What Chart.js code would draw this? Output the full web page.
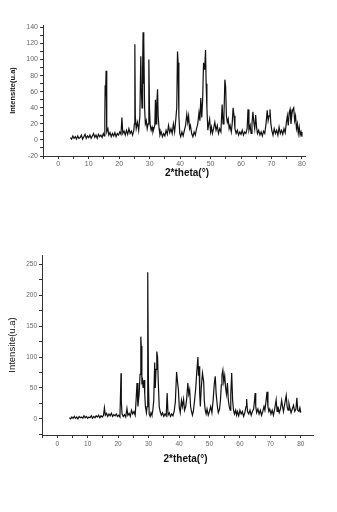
<!DOCTYPE html>
<html><head><meta charset="utf-8">
<script src="https://cdn.jsdelivr.net/npm/chart.js@4.4.0/dist/chart.umd.min.js"></script>
<style>
html,body{margin:0;padding:0;background:#fff;}
body{width:337px;height:512px;position:relative;overflow:hidden;}
.w{position:absolute;left:0;width:337px;}
</style></head><body>
<div class="w" style="top:0;height:190px"><canvas id="c1"></canvas></div>
<div class="w" style="top:240px;height:230px"><canvas id="c2"></canvas></div>
<script>
// ---- Top pattern ----
const twoTheta1 = [4.0,4.4,4.8,5.2,5.6,6.0,6.4,6.8,7.2,7.6,8.0,8.4,8.8,9.2,9.6,10.0,10.4,10.8,11.2,11.6,12.0,12.4,12.8,13.2,13.6,14.0,14.4,14.8,15.1,15.3,15.4,15.55,15.7,15.85,16.0,16.3,16.6,17.0,17.4,17.8,18.2,18.6,19.0,19.4,19.8,20.2,20.6,20.9,21.2,21.6,22.0,22.4,22.8,23.2,23.6,24.0,24.4,24.8,25.0,25.15,25.3,25.6,26.0,26.4,26.8,27.1,27.3,27.5,27.7,27.85,28.0,28.15,28.35,28.6,28.9,29.2,29.5,29.75,29.95,30.2,30.5,30.8,31.1,31.4,31.7,31.9,32.1,32.35,32.6,32.8,33.1,33.4,33.8,34.2,34.6,35.0,35.4,35.8,36.2,36.6,37.0,37.4,37.8,38.2,38.6,38.9,39.15,39.35,39.6,39.9,40.2,40.6,41.0,41.4,41.8,42.2,42.5,42.8,43.1,43.4,43.8,44.2,44.6,45.0,45.4,45.8,46.2,46.5,46.8,47.1,47.4,47.7,47.9,48.1,48.35,48.55,48.8,49.1,49.4,49.7,50.0,50.3,50.6,51.0,51.4,51.8,52.2,52.6,53.0,53.4,53.8,54.1,54.4,54.7,54.95,55.2,55.5,55.8,56.1,56.4,56.8,57.1,57.4,57.7,58.0,58.4,58.8,59.2,59.6,60.0,60.4,60.8,61.2,61.6,62.0,62.3,62.6,63.0,63.3,63.6,63.9,64.2,64.5,64.8,65.1,65.4,65.8,66.2,66.6,67.0,67.4,67.8,68.2,68.6,68.9,69.2,69.5,69.8,70.1,70.5,70.9,71.3,71.7,72.1,72.5,72.9,73.3,73.7,74.1,74.5,74.9,75.2,75.5,75.8,76.1,76.4,76.7,77.0,77.3,77.6,77.9,78.2,78.5,78.8,79.1,79.4,79.7,80.0];
const intensity1 = [3,1,5,2,4,1,5,2,3,6,1,4,7,2,5,3,6,2,5,8,3,6,2,7,4,6,3,8,5,30,68,55,86,20,10,14,6,9,4,8,5,9,4,8,6,10,7,28,8,11,6,12,7,14,8,11,6,12,20,119,30,14,22,12,30,104,60,40,90,134,70,125,40,20,24,14,20,100,40,18,12,16,10,14,18,50,20,45,63,30,14,6,10,4,8,5,12,7,18,9,14,8,20,10,26,40,110,96,30,8,4,10,5,12,18,32,22,30,14,18,8,4,10,6,14,20,34,24,52,28,50,96,88,90,112,70,40,12,20,26,10,16,8,14,22,12,18,8,14,10,44,20,30,75,66,30,22,26,14,18,10,20,40,30,14,8,12,6,10,7,12,6,10,8,14,38,12,18,8,20,35,22,14,31,16,8,12,6,10,5,11,8,20,37,24,30,38,20,12,6,14,8,12,6,16,8,12,7,14,9,22,30,18,34,38,20,32,38,40,24,30,14,20,8,16,6,10,4];
// ---- Bottom pattern ----
const twoTheta2 = [4.0,4.4,4.8,5.2,5.6,6.0,6.4,6.8,7.2,7.6,8.0,8.4,8.8,9.2,9.6,10.0,10.4,10.8,11.2,11.6,12.0,12.4,12.8,13.2,13.6,14.0,14.4,14.8,15.2,15.5,15.8,16.2,16.6,17.0,17.4,17.8,18.2,18.6,19.0,19.4,19.8,20.2,20.6,20.95,21.05,21.3,21.7,22.1,22.5,22.9,23.2,23.6,24.0,24.4,24.8,25.2,25.6,25.9,26.2,26.5,26.9,27.2,27.45,27.6,27.8,28.0,28.2,28.5,28.75,28.95,29.3,29.5,29.65,29.8,29.95,30.2,30.5,30.8,31.1,31.4,31.7,32.0,32.2,32.45,32.7,32.95,33.2,33.5,33.8,34.2,34.6,35.0,35.4,35.8,36.1,36.4,36.8,37.2,37.6,38.0,38.4,38.8,39.2,39.5,39.8,40.1,40.4,40.8,41.1,41.5,41.8,42.2,42.5,42.9,43.2,43.5,43.8,44.1,44.4,44.7,45.1,45.5,45.8,46.2,46.4,46.6,46.8,47.0,47.3,47.7,48.1,48.3,48.6,48.9,49.2,49.6,50.0,50.4,50.8,51.2,51.6,51.9,52.2,52.6,52.9,53.3,53.6,53.9,54.1,54.4,54.7,55.0,55.3,55.6,55.9,56.2,56.5,56.8,57.0,57.3,57.6,57.9,58.2,58.6,58.9,59.2,59.6,60.0,60.4,60.8,61.2,61.6,62.0,62.2,62.5,62.9,63.3,63.7,64.1,64.5,64.8,65.0,65.2,65.5,65.9,66.3,66.7,67.1,67.5,67.9,68.2,68.6,68.9,69.2,69.5,69.8,70.2,70.6,71.0,71.4,71.9,72.2,72.5,72.9,73.3,73.7,74.0,74.3,74.7,75.2,75.5,75.8,76.1,76.4,76.8,77.2,77.6,78.0,78.4,78.7,79.0,79.4,79.7,80.0];
const intensity2 = [2,0,3,1,4,1,3,0,4,2,3,1,5,2,4,1,3,2,5,1,4,2,5,3,6,2,5,3,6,18,6,9,4,8,5,9,4,7,5,8,4,6,3,74,28,8,4,7,3,17,6,9,4,14,8,12,6,30,58,20,40,72,133,118,60,63,50,63,40,20,10,20,221,237,60,8,4,10,6,14,30,91,50,80,109,100,58,20,12,6,10,4,8,5,42,6,10,4,8,5,12,28,76,60,47,18,10,30,20,32,14,20,32,58,40,47,20,12,6,12,30,50,74,100,70,85,40,20,50,74,60,30,14,8,16,6,12,20,10,30,58,69,40,20,10,16,30,55,71,79,60,70,50,40,58,30,20,14,40,74,30,14,8,14,6,12,5,14,8,12,4,10,20,32,12,8,14,6,12,16,30,42,20,10,16,8,14,6,12,20,14,30,44,20,12,16,8,14,6,16,31,12,20,10,16,30,20,12,24,38,20,14,25,18,10,16,22,12,16,34,14,12,18,10];
// ---- Ticks ----
const xTicks = [-5,0,5,10,15,20,25,30,35,40,45,50,55,60,65,70,75,80];
const yTicks1 = [-20,-10,0,10,20,30,40,50,60,70,80,90,100,110,120,130,140];
const yTicks2 = [-25,0,25,50,75,100,125,150,175,200,225,250];
const xTitle = '2*theta(°)';
const yTitle = 'Intensite(u.a)';

// draws the x-axis title slightly right of centre, as in the original figure
const xTitlePlugin = {
  id: 'xTitleShift',
  afterDraw(chart, args, opts) {
    const a = chart.chartArea, ctx = chart.ctx;
    ctx.save();
    ctx.font = opts.font;
    ctx.fillStyle = '#111';
    ctx.textAlign = 'center';
    ctx.textBaseline = 'middle';
    ctx.fillText(xTitle, (a.left + a.right) / 2 + opts.dx, a.bottom + opts.dy);
    ctx.restore();
  }
};

function makeChart(id, xs, ys, o) {
  const pts = xs.map((x, i) => ({x: x, y: ys[i]}));
  return new Chart(document.getElementById(id), {
    type: 'line',
    data: {datasets: [{data: pts, borderColor: '#111', borderWidth: 1.2, pointRadius: 0, tension: 0, fill: false}]},
    plugins: [xTitlePlugin],
    options: {
      animation: false, responsive: true, maintainAspectRatio: false, devicePixelRatio: 1,
      layout: {padding: o.pad},
      plugins: {legend: {display: false}, tooltip: {enabled: false},
                xTitleShift: {font: 'bold 10px "Liberation Sans", Arial', dx: o.tdx, dy: o.tdy}},
      scales: {
        x: {
          type: 'linear', min: o.xmin, max: o.xmax,
          afterBuildTicks: s => { s.ticks = xTicks.map(v => ({value: v})); },
          afterFit: s => { s.height = o.xh; },
          grid: {drawOnChartArea: false, color: '#333', tickLength: 3},
          border: {display: true, color: '#333', width: 1},
          ticks: {autoSkip: false, maxRotation: 0, padding: o.xtp, color: '#666', font: {family: 'Liberation Sans, Arial', size: o.tf},
                  callback: v => (v % 10 === 0 ? String(v) : '')},
          title: {display: false}
        },
        y: {
          type: 'linear', min: o.ymin, max: o.ymax,
          afterBuildTicks: s => { s.ticks = o.yt.map(v => ({value: v})); },
          afterFit: s => { s.width = o.yw; },
          grid: {drawOnChartArea: false, color: '#333', tickLength: 3},
          border: {display: true, color: '#333', width: 1},
          ticks: {autoSkip: false, padding: 2, color: '#666', font: {family: 'Liberation Sans, Arial', size: o.tf},
                  callback: v => (v % o.ymaj === 0 ? String(v) : '')},
          title: {display: true, text: yTitle, color: '#111', padding: o.ytpad, font: {family: 'Liberation Sans, Arial', size: o.ytf, weight: o.ytw}}
        }
      }
    }
  });
}

makeChart('c1', twoTheta1, intensity1, {
  pad: {left: 0, top: 25, right: 32, bottom: 0},
  xmin: -5, xmax: 81, ymin: -20, ymax: 143, yt: yTicks1, ymaj: 20,
  xh: 34, yw: 43, tf: 7, xtp: 1, tdx: 13, tdy: 17,
  ytpad: {top: 8, bottom: 0}, ytf: 7.5, ytw: 'bold'
});
makeChart('c2', twoTheta2, intensity2, {
  pad: {left: 0, top: 15, right: 24, bottom: 0},
  xmin: -5, xmax: 84, ymin: -26, ymax: 265, yt: yTicks2, ymaj: 50,
  xh: 35, yw: 42, tf: 6.5, xtp: 2, tdx: 8, tdy: 24,
  ytpad: {top: 7, bottom: 0}, ytf: 9.5, ytw: 'normal'
});
</script>
</body></html>
